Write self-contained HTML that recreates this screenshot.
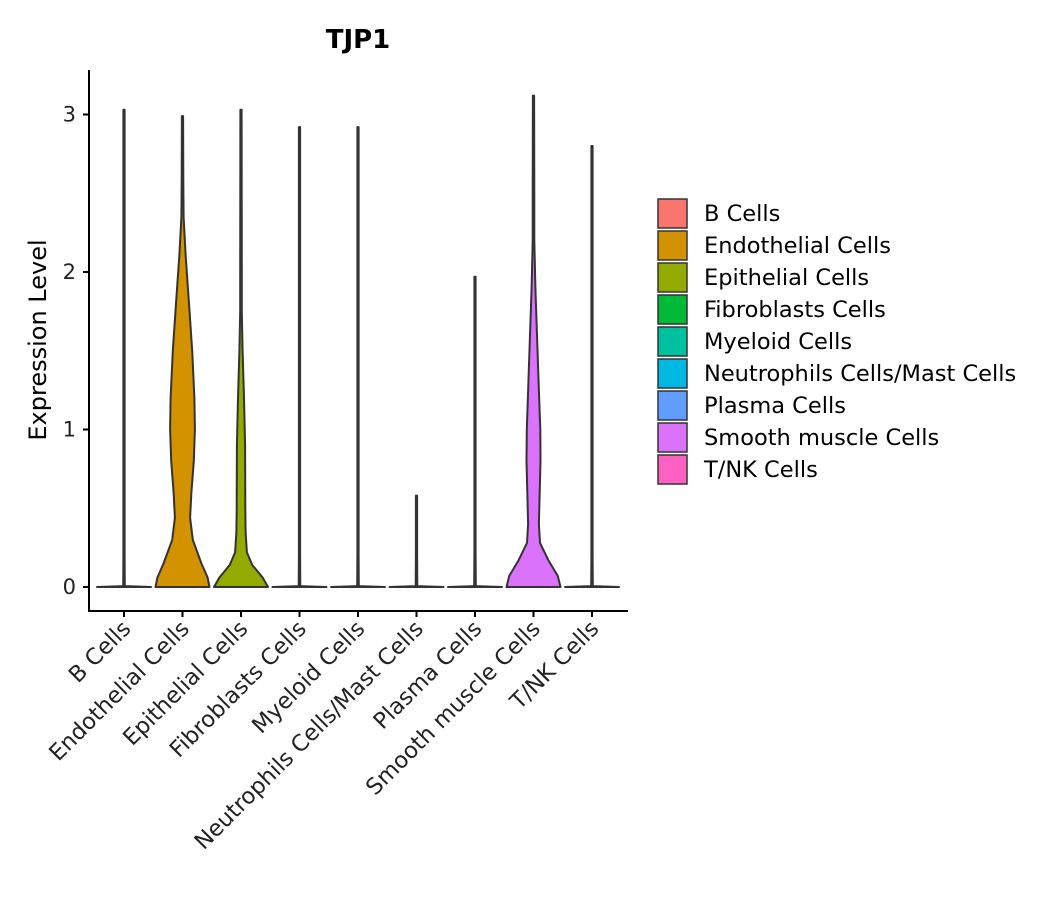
<!DOCTYPE html>
<html><head><meta charset="utf-8"><style>body{margin:0;background:#fff}svg{display:block;font-family:"DejaVu Sans","Liberation Sans",sans-serif}</style></head>
<body>
<svg id="chart" width="1057" height="900"></svg>
<script>
const categories=["B Cells","Endothelial Cells","Epithelial Cells","Fibroblasts Cells","Myeloid Cells","Neutrophils Cells/Mast Cells","Plasma Cells","Smooth muscle Cells","T/NK Cells"];
const colors=["#F8766D","#D39200","#93AA00","#00BA38","#00C19F","#00B9E3","#619CFF","#DB72FB","#FF61C3"];
const maxValues=[3.03,2.99,3.03,2.92,2.92,0.58,1.97,3.12,2.80];
// density profiles: [value, relative half-width]
const sparseProfile=[[0,1],[0.006,0.03],[0.2,0.02]];
const endoProfile=[[0,1],[0.06,0.93],[0.15,0.7],[0.3,0.38],[0.44,0.28],[0.6,0.33],[0.8,0.42],[1.0,0.46],[1.2,0.44],[1.5,0.36],[1.8,0.24],[2.1,0.12],[2.35,0.04],[2.6,0.03]];
const epiProfile=[[0,1],[0.06,0.8],[0.14,0.42],[0.22,0.22],[0.35,0.17],[0.5,0.16],[0.9,0.15],[1.2,0.11],[1.5,0.06],[1.75,0.03],[2.0,0.03]];
const smoothProfile=[[0,1],[0.07,0.9],[0.17,0.55],[0.28,0.24],[0.4,0.2],[0.6,0.23],[0.8,0.26],[1.0,0.25],[1.3,0.19],[1.6,0.13],[1.9,0.07],[2.2,0.03],[2.5,0.03]];
const profiles=[sparseProfile,endoProfile,epiProfile,sparseProfile,sparseProfile,sparseProfile,sparseProfile,smoothProfile,sparseProfile];
const yTicks=[0,1,2,3];

const NS="http://www.w3.org/2000/svg",svg=document.getElementById('chart');
function mk(t,a,p){const e=document.createElementNS(NS,t);for(const k in a)e.setAttribute(k,a[k]);(p||svg).appendChild(e);return e;}
const y=v=>587-v*157.5, x=i=>124+i*58.5, HW=27;

let t=mk('text',{x:358,y:48,'text-anchor':'middle','font-size':26,'font-weight':'bold',fill:'#000'});t.textContent='TJP1';

t=mk('text',{x:0,y:0,'text-anchor':'middle','font-size':24,fill:'#000',transform:'translate(46,340) rotate(-90)'});t.textContent='Expression Level';


let ax=mk('path',{d:'M89,70V611H628',fill:'none',stroke:'#000','stroke-width':2});

yTicks.forEach(v=>{
 mk('line',{x1:83,x2:89,y1:y(v),y2:y(v),stroke:'#000','stroke-width':2});
 const tl=mk('text',{x:76,y:y(v)+7,'text-anchor':'end','font-size':21,fill:'#222'});tl.textContent=v;
 
});
categories.forEach((c,i)=>{
 const cx=x(i),mv=maxValues[i];
 const pts=profiles[i].filter(p=>p[0]<mv).concat([[mv,0.02]]);
 const right=pts.map(p=>[cx+Math.max(p[1]*HW,0.6),y(p[0])]);
 const left=pts.slice().reverse().map(p=>[cx-Math.max(p[1]*HW,0.6),y(p[0])]);
 const all=right.concat(left);
 let d='M'+all.map(p=>p[0].toFixed(1)+','+p[1].toFixed(1)).join('L')+'Z';
 const v=mk('path',{d:d,fill:colors[i],stroke:'#333','stroke-width':2,'stroke-linejoin':'round'});
 
 mk('line',{x1:cx,x2:cx,y1:611,y2:617,stroke:'#000','stroke-width':2});
 const xl=mk('text',{x:0,y:0,'text-anchor':'end','font-size':22.5,fill:'#222',transform:`translate(${cx+8},${630}) rotate(-45)`});xl.textContent=c;
 
});
categories.forEach((c,i)=>{
 const g=mk('g',{});
 
 mk('rect',{x:658,y:199+i*32,width:29,height:29,fill:colors[i],stroke:'#333','stroke-width':1.5},g);
 const lt=mk('text',{x:704,y:221+i*32,'font-size':22.5,fill:'#000'},g);lt.textContent=c;
});
</script>
</body></html>
